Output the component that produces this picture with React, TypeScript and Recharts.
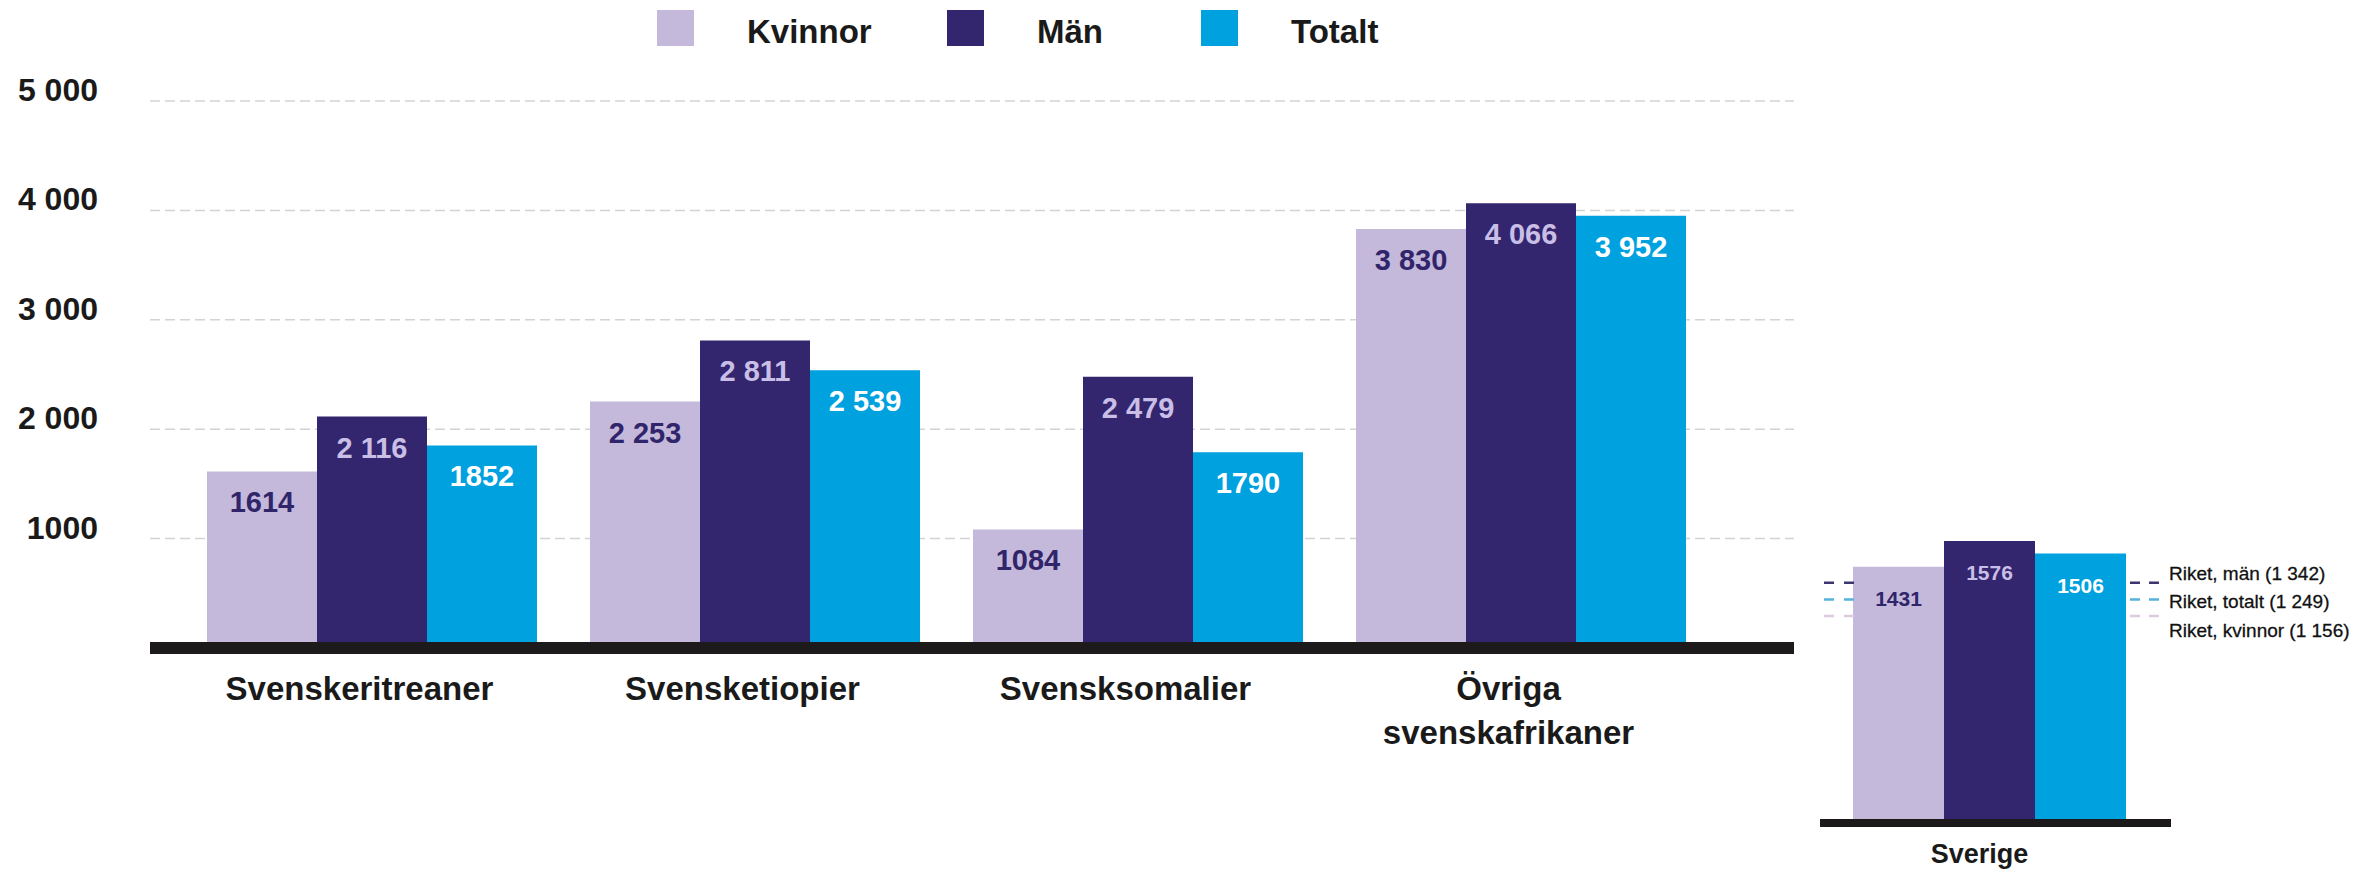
import React from 'react';
import { BarChart, Bar, XAxis, YAxis, CartesianGrid, LabelList, ReferenceLine } from 'recharts';

// ---------- data ----------
const categories = ['Svenskeritreaner', 'Svensketiopier', 'Svensksomalier', 'Övriga\nsvenskafrikaner'];
const kvinnorValues = [1614, 2253, 1084, 3830];
const manValues = [2116, 2811, 2479, 4066];
const totaltValues = [1852, 2539, 1790, 3952];
const yTicks = [1000, 2000, 3000, 4000, 5000];
const yTickLabels = ['1000', '2 000', '3 000', '4 000', '5 000'];
const seriesNames = ['Kvinnor', 'Män', 'Totalt'];
const seriesKeys = ['kvinnor', 'man', 'totalt'];

const sverigeCategories = ['Sverige'];
const sverigeKvinnor = [1431];
const sverigeMan = [1576];
const sverigeTotalt = [1506];
const riketValues = [1342, 1249, 1156];
const riketLabels = ['Riket, män (1\u00a0342)', 'Riket, totalt (1\u00a0249)', 'Riket, kvinnor (1\u00a0156)'];

// ---------- styles ----------
const FONT = "'Liberation Sans', Arial, Helvetica, sans-serif";
const barColors = ['#c4b8db', '#33256e', '#00a1df'];
const labelColors = ['#30256a', '#c9bfe6', '#ffffff'];
const riketColors = ['#3b3670', '#55b2dc', '#dccbdd'];
const riketLabelDy = [-9, 2, 14];
const legendLefts = [657, 947, 1201];
const AXIS_COLOR = '#1d1a1c';
const TEXT_COLOR = '#1a1a1a';

const fmt = (v: number) => (v >= 2000 ? String(v).replace(/\B(?=(\d{3})+(?!\d))/g, '\u00a0') : String(v));

const mainData = categories.map((name, i) => ({
  name,
  kvinnor: kvinnorValues[i],
  man: manValues[i],
  totalt: totaltValues[i],
}));

const sverigeData = sverigeCategories.map((name, i) => ({
  name,
  kvinnor: sverigeKvinnor[i],
  man: sverigeMan[i],
  totalt: sverigeTotalt[i],
}));

const makeLabel = (color: string, offset: number, fontSize: number) => (props: any) => {
  const { x, y, width, value } = props;
  return (
    <text
      x={Number(x) + Number(width) / 2}
      y={Number(y) + offset}
      textAnchor="middle"
      dominantBaseline="central"
      fontFamily={FONT}
      fontSize={fontSize}
      fontWeight={700}
      fill={color}
    >
      {fmt(Number(value))}
    </text>
  );
};

const CatTick = (props: any) => {
  const { x, y, payload } = props;
  const lines = String(payload.value).split('\n');
  return (
    <text x={x - 12} y={y + 52} textAnchor="middle" fontFamily={FONT} fontSize={33} fontWeight={700} fill={TEXT_COLOR}>
      {lines.map((l, i) => (
        <tspan key={i} x={x - 12} dy={i === 0 ? 0 : 44}>
          {l}
        </tspan>
      ))}
    </text>
  );
};

const YTick = (props: any) => {
  const { x, y, payload } = props;
  const idx = yTicks.indexOf(payload.value);
  return (
    <text x={x} y={y} textAnchor="end" fontFamily={FONT} fontSize={32} fontWeight={700} fill={TEXT_COLOR}>
      {idx >= 0 ? yTickLabels[idx] : payload.value}
    </text>
  );
};

const SverigeTick = (props: any) => {
  const { x, y, payload } = props;
  return (
    <text x={x - 10} y={y + 40} textAnchor="middle" fontFamily={FONT} fontSize={27} fontWeight={700} fill={TEXT_COLOR}>
      {payload.value}
    </text>
  );
};

const riketShape = (i: number) => (props: any) => {
  const { x1, x2, y1 } = props;
  const lx = Math.min(Number(x1), Number(x2));
  const rx = Math.max(Number(x1), Number(x2));
  const y = Number(y1);
  return (
    <g>
      <line x1={lx + 4} x2={lx + 34} y1={y} y2={y} stroke={riketColors[i]} strokeWidth={2.5} strokeDasharray="10 10" />
      <line x1={rx - 41} x2={rx - 12} y1={y} y2={y} stroke={riketColors[i]} strokeWidth={2.5} strokeDasharray="10 9" />
      <text x={rx - 2} y={y + riketLabelDy[i]} dominantBaseline="central" fontFamily={FONT} fontSize={19} fill="#111111" stroke="#111111" strokeWidth={0.3}>
        {riketLabels[i]}
      </text>
    </g>
  );
};

export default function App() {
  return (
    <div style={{ position: 'absolute', left: 0, top: 0, width: 2364, height: 870, background: '#ffffff', fontFamily: FONT }}>
      {/* legend */}
      {seriesNames.map((n, i) => (
        <div key={n} style={{ position: 'absolute', left: legendLefts[i], top: 10, display: 'flex', alignItems: 'flex-start' }}>
          <div style={{ width: 37, height: 36, background: barColors[i] }} />
          <div style={{ marginLeft: 53, fontSize: 33, fontWeight: 700, lineHeight: '44px', color: TEXT_COLOR, whiteSpace: 'nowrap' }}>{n}</div>
        </div>
      ))}

      {/* main chart */}
      <div style={{ position: 'absolute', left: 0, top: 0 }}>
        <BarChart
          width={1800}
          height={870}
          data={mainData}
          margin={{ top: 101, right: 6, bottom: 122, left: 0 }}
          barCategoryGap={27}
          barGap={0}
        >
          <CartesianGrid vertical={false} stroke="#d3d3d3" strokeDasharray="10 5" strokeWidth={1.5} />
          <XAxis
            dataKey="name"
            height={100}
            axisLine={false}
            tickLine={false}
            tickSize={0}
            tickMargin={0}
            interval={0}
            padding={{ left: 30, right: 82 }}
            tick={<CatTick />}
          />
          <YAxis
            width={150}
            domain={[0, 5000]}
            ticks={yTicks}
            axisLine={false}
            tickLine={false}
            tickSize={0}
            tickMargin={52}
            tick={<YTick />}
          />
          {seriesKeys.map((k, i) => (
            <Bar key={k} dataKey={k} fill={barColors[i]} isAnimationActive={false}>
              <LabelList dataKey={k} content={makeLabel(labelColors[i], 31, 29)} />
            </Bar>
          ))}
          <ReferenceLine y={0} stroke={AXIS_COLOR} strokeWidth={12} />
        </BarChart>
      </div>

      {/* Sverige chart */}
      <div style={{ position: 'absolute', left: 1800, top: 400 }}>
        <BarChart
          width={564}
          height={470}
          data={sverigeData}
          margin={{ top: 65, right: 193, bottom: 0, left: 20 }}
          barCategoryGap={33}
          barGap={0}
        >
          <XAxis
            dataKey="name"
            height={47}
            axisLine={false}
            tickLine={false}
            tickSize={0}
            tickMargin={0}
            padding={{ left: 0, right: 12 }}
            tick={<SverigeTick />}
          />
          <YAxis hide domain={[0, 2000]} />
          {seriesKeys.map((k, i) => (
            <Bar key={k} dataKey={k} fill={barColors[i]} isAnimationActive={false}>
              <LabelList dataKey={k} content={makeLabel(labelColors[i], 32, 21)} />
            </Bar>
          ))}
          {riketValues.map((v, i) => (
            <ReferenceLine key={i} y={v} shape={riketShape(i)} />
          ))}
          <ReferenceLine y={0} stroke={AXIS_COLOR} strokeWidth={8} />
        </BarChart>
      </div>
    </div>
  );
}
